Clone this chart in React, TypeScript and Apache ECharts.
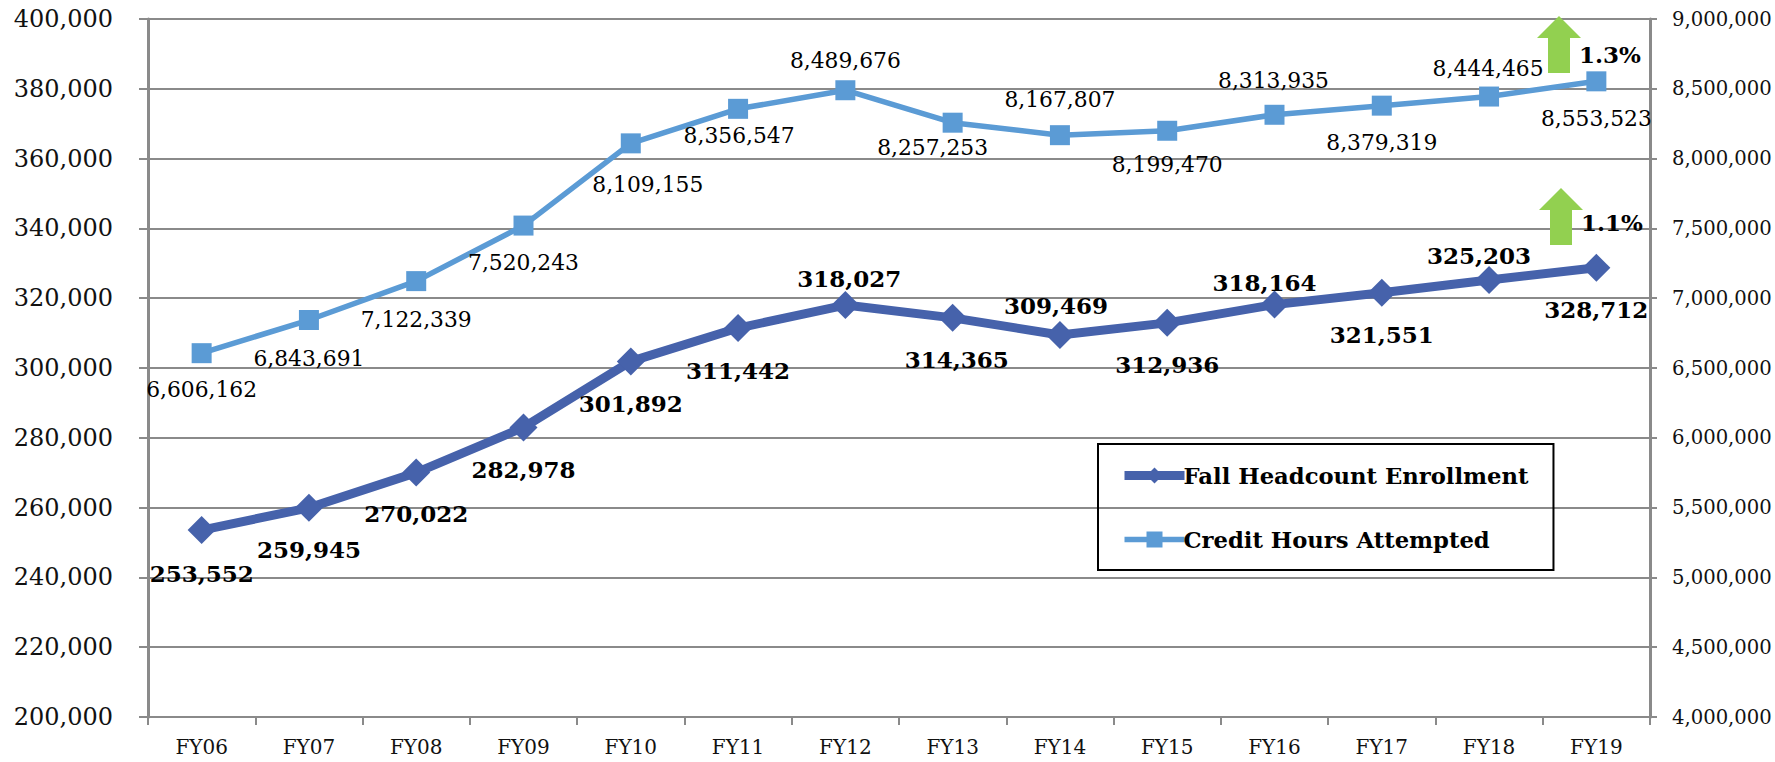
import React, { useEffect, useRef } from "react";
import * as echarts from "echarts";

const categories = ["FY06","FY07","FY08","FY09","FY10","FY11","FY12","FY13","FY14","FY15","FY16","FY17","FY18","FY19"];
const headcount = [253552,259945,270022,282978,301892,311442,318027,314365,309469,312936,318164,321551,325203,328712];
const creditHours = [6606162,6843691,7122339,7520243,8109155,8356547,8489676,8257253,8167807,8199470,8313935,8379319,8444465,8553523];
const headcountOffsets = [[0,43],[0,42],[0,41],[0,42],[0,42],[0,42],[4,-27],[4,42],[-4,-29],[0,42],[-10,-22],[0,42],[-10,-25],[0,42]];
const creditOffsets = [[0,36],[0,38],[0,38],[0,37],[17,41],[1,27],[0,-30],[-20,25],[0,-36],[0,34],[-1,-34],[0,37],[-1,-28],[0,37]];

const FONT = "DejaVu Serif";
const fmt = (v: number) => v.toLocaleString("en-US");

const arrow = (x: number, y: number) => ({
  type: "polygon",
  silent: true,
  z: 20,
  shape: { points: [[x,y],[x+22,y+22],[x+11,y+22],[x+11,y+57],[x-11,y+57],[x-11,y+22],[x-22,y+22]] },
  style: { fill: "#92D050" },
});
const pct = (x: number, y: number, text: string) => ({
  type: "text",
  silent: true,
  z: 21,
  x, y,
  style: { text, fill: "#000", font: `bold 23px "${FONT}"`, textAlign: "center", textVerticalAlign: "middle" },
});

export default function App() {
  const ref = useRef<HTMLDivElement>(null);
  useEffect(() => {
    const chart = echarts.init(ref.current!, null, { renderer: "svg" });
    const axisGray = "#8a8a8a";
    const makeSeries = (name: string, values: number[], offsets: number[][], axis: number, color: string, width: number, symbol: string, size: number, bold: boolean, fs: number) => ({
      name,
      type: "line",
      yAxisIndex: axis,
      data: values,
      symbol,
      symbolSize: size,
      lineStyle: { color, width },
      itemStyle: { color },
      label: {
        show: true,
        position: "inside",
        color: "#000",
        fontFamily: FONT,
        fontWeight: bold ? "bold" : "normal",
        fontSize: fs,
        formatter: (p: any) => fmt(p.value),
      },
      labelLayout: (params: any) => ({
        dx: offsets[params.dataIndex][0],
        dy: offsets[params.dataIndex][1],
      }),
      z: 5,
    });
    chart.setOption({
      animation: false,
      backgroundColor: "#fff",
      grid: { left: 148, right: 125, top: 19, bottom: 45 },
      legend: {
        orient: "vertical",
        left: 1098,
        top: 444,
        padding: [20, 25, 19, 22],
        itemGap: 41,
        itemWidth: 60,
        itemHeight: 20,
        borderColor: "#000",
        borderWidth: 2,
        textStyle: { fontFamily: FONT, fontWeight: "bold", fontSize: 22.7, color: "#000", padding: [0, 0, 0, -6] },
        data: [
          { name: "Fall Headcount Enrollment", lineStyle: { width: 9 } },
          { name: "Credit Hours Attempted", lineStyle: { width: 5.5 } },
        ],
      },
      xAxis: {
        type: "category",
        data: categories,
        boundaryGap: true,
        axisLine: { lineStyle: { color: axisGray, width: 2 } },
        axisTick: { show: true, length: 8, lineStyle: { color: axisGray, width: 2 } },
        axisLabel: { margin: 20, fontFamily: FONT, fontSize: 20, color: "#111" },
      },
      yAxis: [
        {
          type: "value", min: 200000, max: 400000, interval: 20000,
          axisLine: { show: true, lineStyle: { color: axisGray, width: 3 } },
          axisTick: { show: true, length: 9, lineStyle: { color: axisGray, width: 2 } },
          splitLine: { show: true, lineStyle: { color: axisGray, width: 2 } },
          axisLabel: { margin: 35, fontFamily: FONT, fontSize: 24, color: "#111", formatter: fmt },
        },
        {
          type: "value", min: 4000000, max: 9000000, interval: 500000, position: "right",
          axisLine: { show: true, lineStyle: { color: axisGray, width: 3 } },
          axisTick: { show: true, length: 7, lineStyle: { color: axisGray, width: 2 } },
          splitLine: { show: false },
          axisLabel: { margin: 22, fontFamily: FONT, fontSize: 19.6, color: "#111", formatter: fmt },
        },
      ],
      series: [
        makeSeries("Fall Headcount Enrollment", headcount, headcountOffsets, 0, "#4662AB", 9, "diamond", 28, true, 23),
        makeSeries("Credit Hours Attempted", creditHours, creditOffsets, 1, "#5B9BD5", 5.5, "rect", 20, false, 21.8),
      ],
      graphic: [
        arrow(1559, 16),
        arrow(1561, 188),
        pct(1610, 54, "1.3%"),
        pct(1612, 222, "1.1%"),
      ],
    });
    return () => chart.dispose();
  }, []);
  return <div ref={ref} style={{ position: "absolute", left: 0, top: 0, width: 1775, height: 762 }} />;
}
